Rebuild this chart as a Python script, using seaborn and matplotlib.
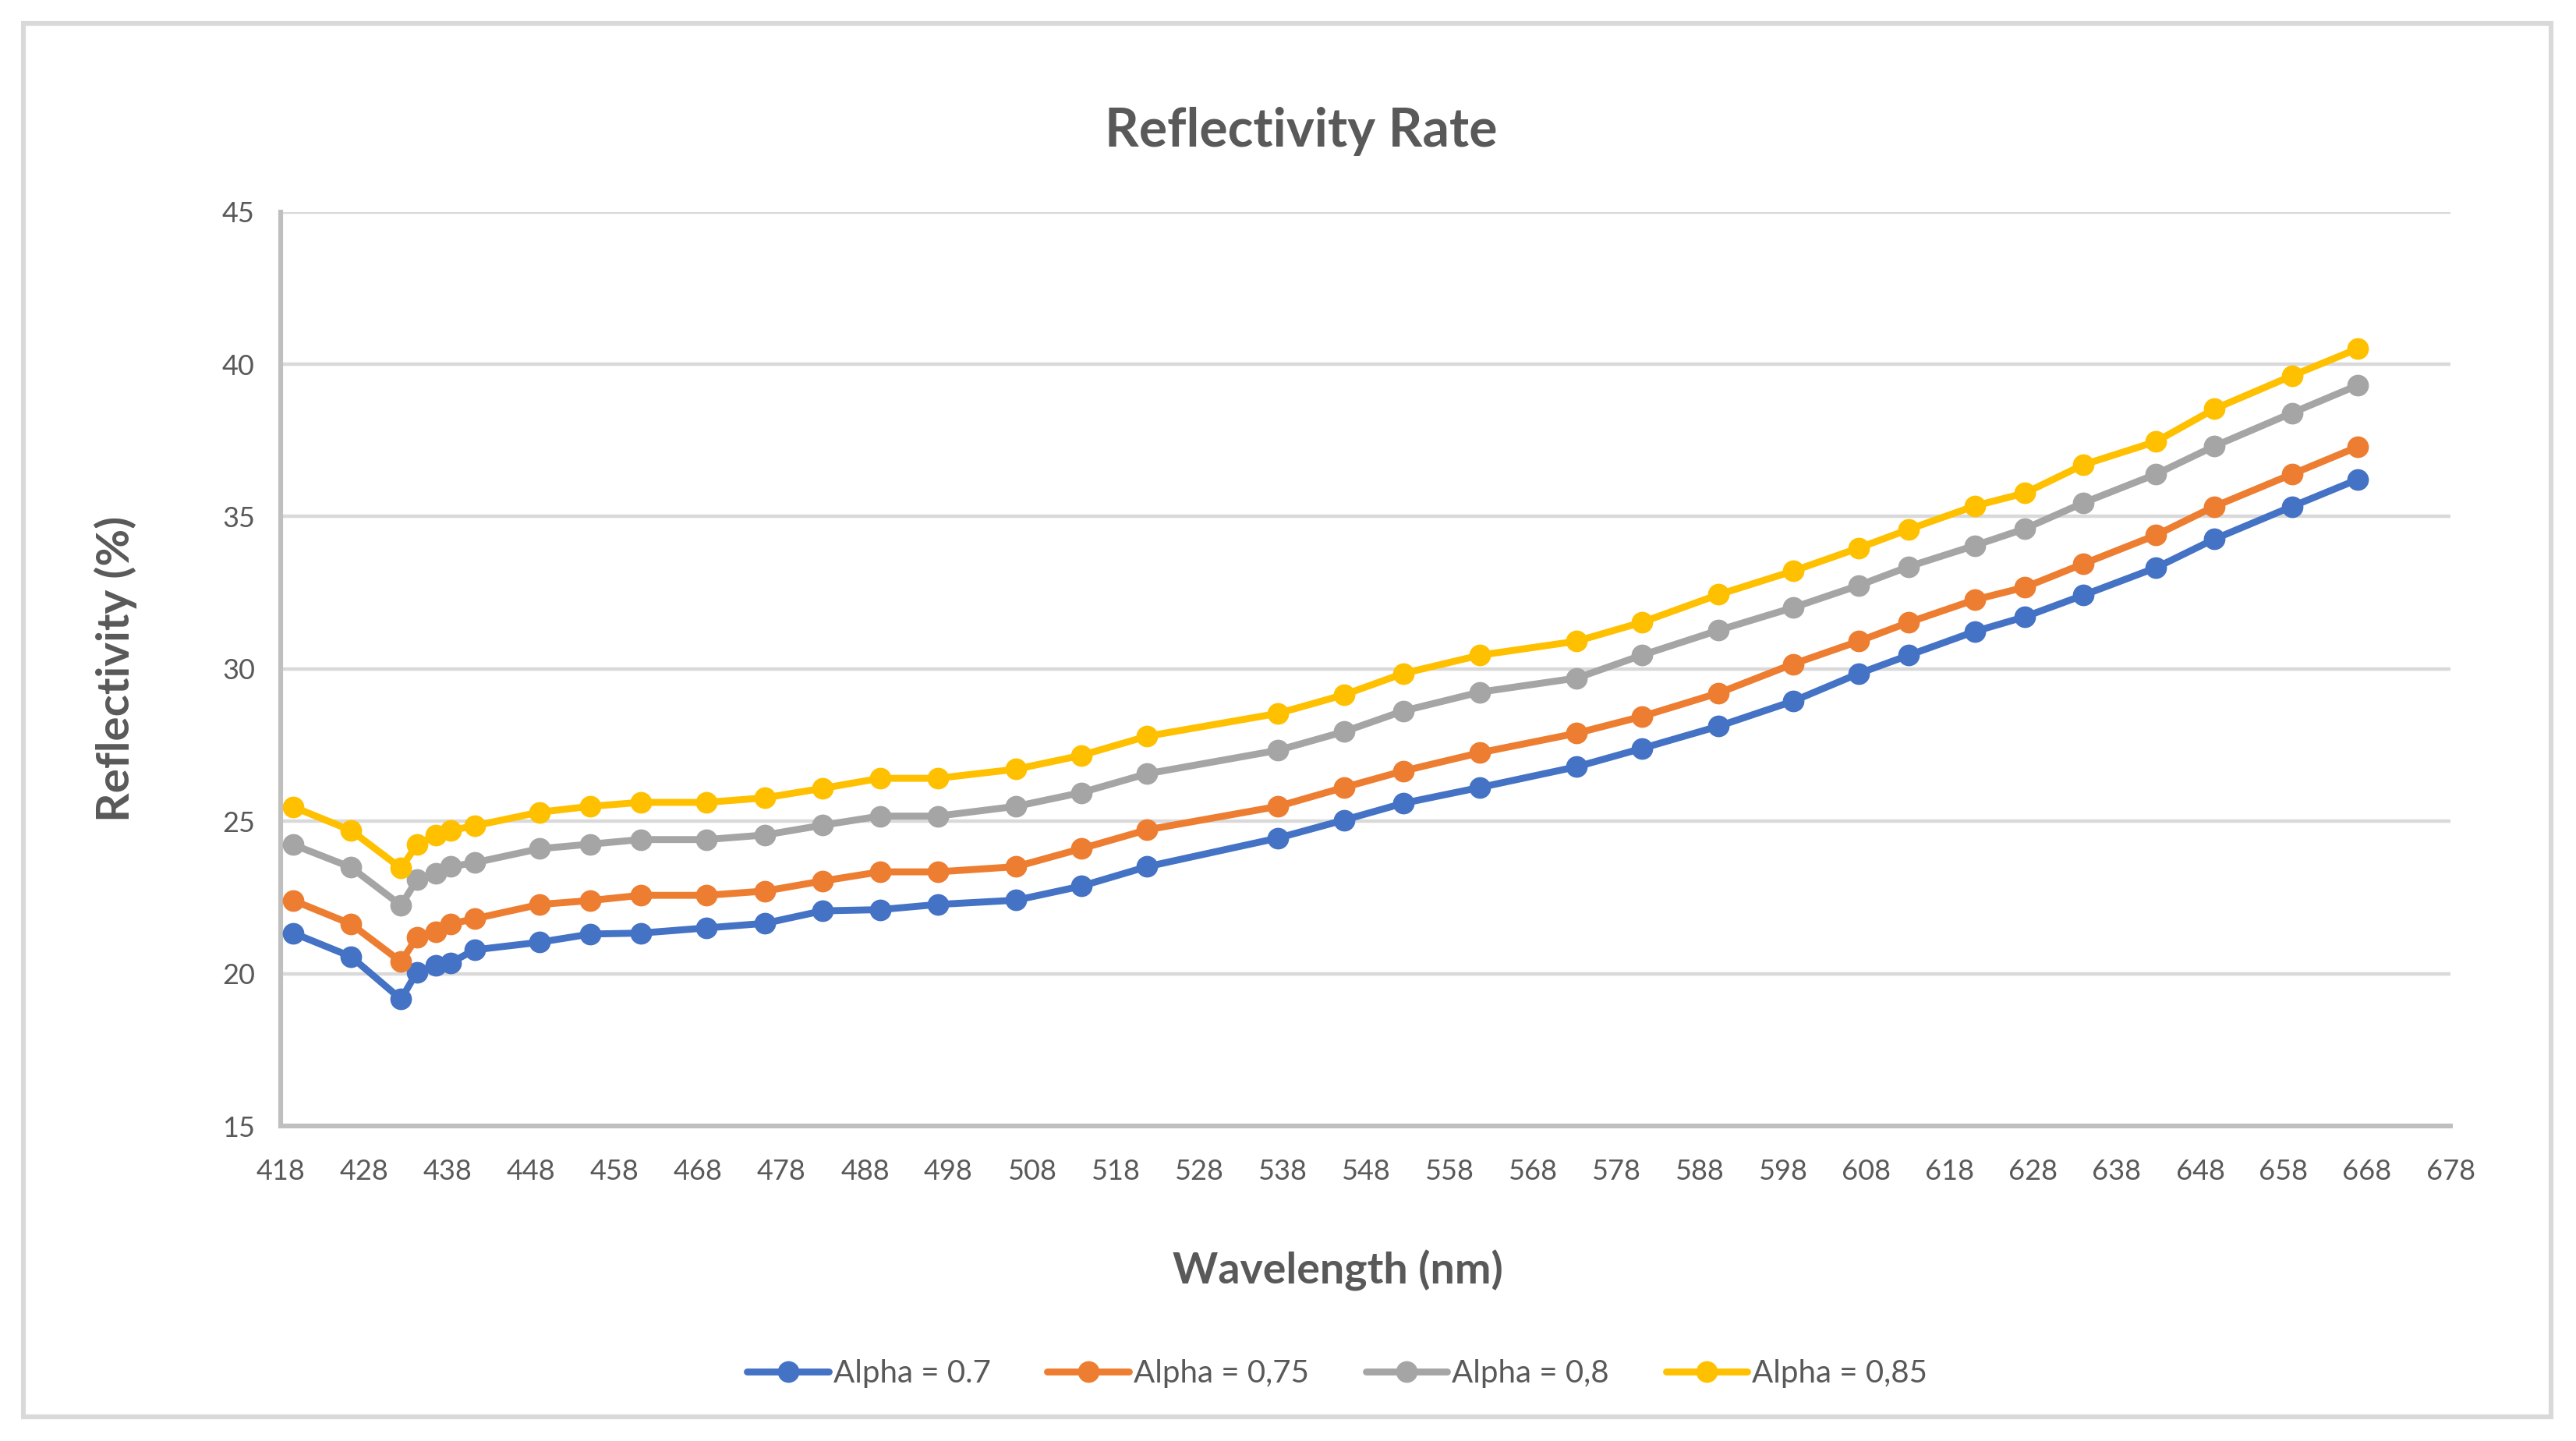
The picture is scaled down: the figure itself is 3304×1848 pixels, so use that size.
import matplotlib
matplotlib.use("Agg")

import matplotlib.pyplot as plt
import numpy as np
import pandas as pd
import seaborn as sns
from matplotlib.lines import Line2D
from matplotlib.patches import Rectangle


# values
wavelength = [
    419.5, 426.4, 432.4, 434.3, 436.6, 438.3, 441.2, 449.0, 455.1, 461.1,
    469.0, 476.0, 482.9, 489.8, 496.7, 506.1, 513.9, 521.8, 537.5, 545.4,
    552.5, 561.7, 573.3, 581.1, 590.3, 599.2, 607.1, 613.1, 621.0, 627.0,
    634.0, 642.7, 649.7, 659.0, 666.9,
]

alpha_070 = [
    21.33, 20.56, 19.16, 20.05, 20.26, 20.35, 20.78, 21.03, 21.30, 21.33,
    21.50, 21.65, 22.06, 22.10, 22.27, 22.41, 22.87, 23.51, 24.45, 25.04,
    25.59, 26.11, 26.79, 27.39, 28.12, 28.94, 29.85, 30.45, 31.23, 31.71,
    32.42, 33.32, 34.26, 35.33, 36.22,
]
alpha_075 = [
    22.40, 21.63, 20.39, 21.19, 21.37, 21.63, 21.80, 22.27, 22.40, 22.57,
    22.57, 22.71, 23.04, 23.34, 23.34, 23.51, 24.10, 24.72, 25.49, 26.11,
    26.65, 27.25, 27.89, 28.44, 29.21, 30.16, 30.91, 31.53, 32.27, 32.68,
    33.45, 34.39, 35.33, 36.39, 37.29,
]
alpha_080 = [
    24.23, 23.49, 22.24, 23.08, 23.29, 23.51, 23.64, 24.10, 24.25, 24.40,
    24.40, 24.55, 24.87, 25.17, 25.17, 25.49, 25.94, 26.56, 27.33, 27.94,
    28.62, 29.24, 29.70, 30.45, 31.27, 32.01, 32.74, 33.36, 34.05, 34.60,
    35.45, 36.39, 37.31, 38.40, 39.31,
]
alpha_085 = [
    25.47, 24.70, 23.46, 24.23, 24.55, 24.70, 24.85, 25.30, 25.49, 25.62,
    25.62, 25.77, 26.08, 26.41, 26.41, 26.71, 27.16, 27.79, 28.54, 29.15,
    29.85, 30.45, 30.91, 31.53, 32.44, 33.21, 33.97, 34.58, 35.35, 35.77,
    36.70, 37.46, 38.53, 39.62, 40.51,
]

series_names = ["Alpha = 0.7", "Alpha = 0,75", "Alpha = 0,8", "Alpha = 0,85"]
series_values = [alpha_070, alpha_075, alpha_080, alpha_085]
colors = ["#4472C4", "#ED7D31", "#A5A5A5", "#FFC000"]

x_ticks = list(range(418, 679, 10))
y_ticks = list(range(15, 46, 5))

TEXT = "#595959"


def build_frame() -> pd.DataFrame:
    parts = []
    for name, vals in zip(series_names, series_values):
        parts.append(pd.DataFrame({"wavelength": wavelength, "reflectivity": vals, "series": name}))
    return pd.concat(parts, ignore_index=True)


def main():
    sns.set_theme(style="white")
    plt.rcParams["font.family"] = ["Lato", "DejaVu Sans"]

    df = build_frame()

    fig = plt.figure(figsize=(16.525, 9.24), dpi=200)
    ax = fig.add_axes([0.109, 0.2186, 0.842, 0.6344])

    sns.lineplot(
        data=df, x="wavelength", y="reflectivity", hue="series",
        palette=dict(zip(series_names, colors)), hue_order=series_names,
        marker="o", markersize=10, markeredgewidth=0, linewidth=3.2,
        sort=False, legend=False, ax=ax, zorder=3,
    )

    ax.set_xlim(418, 678)
    ax.set_ylim(15, 45)
    ax.set_xticks(x_ticks)
    ax.set_yticks(y_ticks)
    ax.tick_params(axis="x", length=0, pad=15, labelsize=13, labelcolor=TEXT)
    ax.tick_params(axis="y", length=0, pad=12, labelsize=13, labelcolor=TEXT)

    ax.grid(axis="y", color="#D9D9D9", linewidth=1.6)
    ax.grid(axis="x", visible=False)
    ax.set_axisbelow(True)
    for side in ["top", "right"]:
        ax.spines[side].set_visible(False)
    for side in ["left", "bottom"]:
        ax.spines[side].set_color("#BFBFBF")
        ax.spines[side].set_linewidth(2.2)

    ax.set_xlabel("Wavelength (nm)", fontsize=20, fontweight="bold", color=TEXT, va="center")
    ax.xaxis.set_label_coords(0.487, -0.158)
    ax.set_ylabel("Reflectivity (%)", fontsize=21, fontweight="bold", color=TEXT, va="center")
    ax.yaxis.set_label_coords(-0.0763, 0.5)

    fig.text(0.505, 0.9086, "Reflectivity Rate", ha="center", va="center",
             fontsize=24.5, fontweight="bold", color=TEXT)

    handles = [
        Line2D([], [], color=c, linewidth=3.2, marker="o", markersize=10, markeredgewidth=0)
        for c in colors
    ]
    fig.legend(handles, series_names, loc="center", bbox_to_anchor=(0.519, 0.047), ncol=4,
               frameon=False, fontsize=14.5, labelcolor=TEXT, handlelength=2.6,
               handletextpad=0.15, columnspacing=1.8)

    fig.patches.append(Rectangle((0.0091, 0.0168), 0.9809, 0.967, transform=fig.transFigure,
                                 fill=False, edgecolor="#D9D9D9", linewidth=2.2))

    fig.savefig("out.png", dpi=200, facecolor="white")
    plt.close(fig)


if __name__ == "__main__":
    main()
